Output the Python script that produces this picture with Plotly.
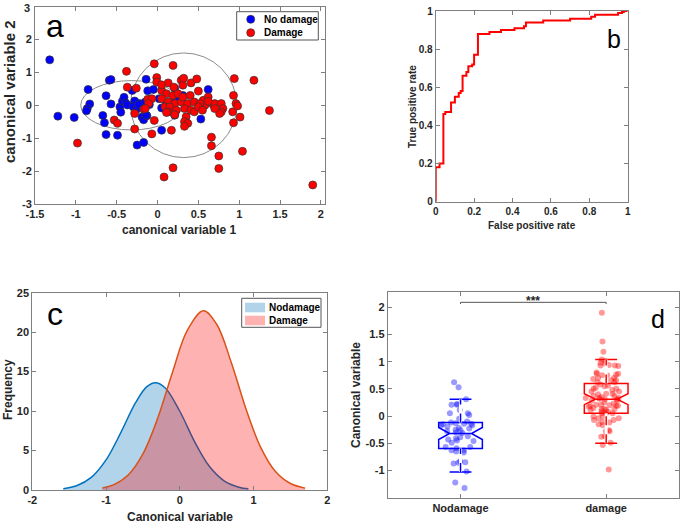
import plotly.graph_objects as go

# ---------------- data ----------------
# (a) canonical variables scatter
nodmg_cv1 = [-1.32, -1.22, -1.02, -0.85, -0.83, -0.86, -0.87, -0.67, -0.65, -0.63,
             -0.59, -0.57, -0.57, -0.63, -0.49, -0.46, -0.45, -0.43, -0.41, -0.39,
             -0.37, -0.31, -0.28, -0.30, -0.26, -0.22, -0.19, -0.17, -0.13, -0.12,
             -0.14, -0.25, -0.17, -0.05, 0.05, 0.05, 0.21, 0.31, 0.62, 0.53,
             -0.15, -0.14, 0.21, -0.23, -0.10, 0.11, 0.02, 0.22]
nodmg_cv2 = [1.38, -0.33, -0.37, 0.48, 0.04, -0.10, -0.17, -0.31, -0.53, 0.29,
             0.76, 0.78, 0.04, -0.89, -0.91, -0.05, -0.21, 0.12, 0.24, 0.07,
             0.01, 0.45, 0.13, -0.04, -0.13, 0.05, -0.36, -0.44, -0.32, 0.44,
             0.79, -1.21, -1.13, 0.48, -0.08, -0.76, 0.52, 0.30, 0.48, -0.42,
             0.10, -0.30, -0.30, 0.02, 0.02, 0.05, 0.20, 0.15]
dmg_cv1 = [-0.98, -0.38, -0.37, -0.53, -0.49, -0.26, -0.28, -0.28, -0.17, -0.04,
           -0.07, -0.04, -0.01, -0.01, 0.19, 0.17, 0.19, 0.08, -0.12, -0.07,
           -0.11, 0.05, 0.11, 0.19, 0.25, 0.05, 0.13, 0.21, 0.29, 0.31,
           0.37, 0.45, 0.56, 0.62, 0.13, 0.29, 0.31, 0.41, 0.50, 0.32,
           0.48, 0.09, 0.15, 0.13, 0.11, 0.23, 0.33, 0.41, 0.45, 0.58,
           0.68, 0.70, 0.78, 0.80, 0.78, 0.76, 0.96, 0.94, 0.93, 0.92,
           1.01, 0.98, 0.93, 1.18, 1.37, 1.90, 0.66, 0.66, 0.75, 0.75,
           1.04, 0.35, 0.33, 0.37, 0.33, 0.21, -0.15, 0.62, 0.52, 0.40,
           0.50, 0.55, 0.20, 0.05, 0.70]
dmg_cv2 = [-1.15, 1.03, 0.55, -0.45, -0.55, 0.52, -0.25, -0.72, -0.12, -0.46,
           -0.87, 1.26, 0.84, 0.71, 1.21, -0.76, -1.90, -2.18, 0.18, 0.20,
           0.05, 0.45, 0.35, 0.30, 0.35, 0.20, 0.10, 0.05, 0.10, 0.25,
           0.05, 0.10, 0.15, 0.25, 0.68, 0.76, 0.61, 0.68, 0.43, 0.82,
           0.80, -0.05, -0.05, -0.20, -0.22, -0.15, -0.10, -0.15, -0.20, 0.00,
           0.02, 0.05, 0.05, -0.10, -0.20, -0.25, 0.05, 0.81, 0.30, -0.20,
           -0.36, -0.02, -0.53, 0.76, -0.16, -2.42, -0.97, -1.23, -1.54, -1.92,
           -1.40, -0.35, -0.50, -0.55, -0.64, -0.29, -0.10, 0.12, 0.05, 0.30,
           -0.05, -0.15, 0.55, 0.62, -0.10]
# confidence ellipses: centre x, centre y, half-width, half-height
ellipse_nodmg = (-0.32, 0.00, 0.62, 0.75)
ellipse_dmg = (0.32, 0.00, 0.65, 1.59)
scatter_names = ["No damage", "Damage"]
a_xticks = [-1.5, -1, -0.5, 0, 0.5, 1, 1.5, 2]
a_yticks = [-3, -2, -1, 0, 1, 2, 3]

# (b) ROC curve
roc_fpr = [0.00, 0.00, 0.02, 0.04, 0.04, 0.05, 0.07, 0.08, 0.08, 0.10, 0.10, 0.12,
           0.13, 0.14, 0.14, 0.16, 0.17, 0.19, 0.20, 0.22, 0.22, 0.28, 0.34, 0.41,
           0.46, 0.47, 0.56, 0.70, 0.81, 0.83, 0.95, 0.97, 0.98, 1.00]
roc_tpr = [0.00, 0.18, 0.20, 0.21, 0.46, 0.47, 0.47, 0.49, 0.52, 0.52, 0.55, 0.57,
           0.58, 0.58, 0.66, 0.68, 0.71, 0.72, 0.77, 0.77, 0.88, 0.89, 0.90, 0.91,
           0.92, 0.94, 0.95, 0.96, 0.97, 0.98, 0.99, 0.995, 1.00, 1.00]
b_ticks = [0, 0.2, 0.4, 0.6, 0.8, 1]

# (c) fitted distributions
nodmg_curve_x = [-1.58, -1.40, -1.20, -1.00, -0.80, -0.60, -0.45, -0.33, -0.20,
                 0.00, 0.20, 0.40, 0.60, 0.80, 0.93]
nodmg_curve_y = [0.16, 0.53, 1.59, 3.81, 7.27, 11.06, 13.06, 13.60, 12.96,
                 9.98, 6.13, 3.00, 1.17, 0.36, 0.15]
dmg_curve_x = [-1.05, -0.90, -0.70, -0.50, -0.30, -0.10, 0.10, 0.32, 0.50,
               0.70, 0.90, 1.10, 1.30, 1.50, 1.70]
dmg_curve_y = [0.26, 0.65, 1.90, 4.57, 9.08, 14.90, 20.20, 22.70, 21.00,
               16.10, 10.20, 5.33, 2.30, 0.82, 0.24]
dist_names = ["Nodamage", "Damage"]
c_xticks = [-2, -1, 0, 1, 2]
c_yticks = [0, 5, 10, 15, 20, 25]

# (d) box plot statistics
groups = ["Nodamage", "damage"]
box_q1 = [-0.595, 0.05]
box_median = [-0.32, 0.31]
box_q3 = [-0.116, 0.60]
box_lower = [-1.03, -0.50]
box_upper = [0.31, 1.04]
box_notch = [0.11, 0.10]
sig_label = "***"
sig_level = 2.09
d_yticks = [-1, -0.5, 0, 0.5, 1, 1.5, 2]

# ---------------- styling helpers ----------------
FONT = "Liberation Sans, Arial, sans-serif"
AX = "#7f7f7f"
TXT = "#262626"
W, H = 685, 525


def px(x):
    return x / W


def py(y):
    return 1 - y / H


def fmt(v):
    return f"{v:g}"


def axis(domain, rng, tickvals, ticktext=None, size=11, anchor=None):
    return dict(domain=domain, range=rng, showline=True, linecolor=AX, linewidth=1,
                mirror="allticks", ticks="inside", ticklen=4, tickcolor=AX,
                showgrid=False, zeroline=False, automargin=False,
                ticklabeloverflow="allow", tickmode="array", tickvals=tickvals,
                ticktext=ticktext if ticktext is not None else [fmt(v) for v in tickvals],
                anchor=anchor,
                tickfont=dict(family=FONT, size=size, color=TXT, weight="bold"))


fig = go.Figure()

# ---------------- (a) ----------------
scatter_colors = ["#0000ff", "#ff0000"]
for name, xs, ys, col in zip(scatter_names, [nodmg_cv1, dmg_cv1], [nodmg_cv2, dmg_cv2], scatter_colors):
    fig.add_trace(go.Scatter(x=xs, y=ys, mode="markers", name=name,
                             marker=dict(color=col, size=8, line=dict(color="#333", width=0.7)),
                             showlegend=False, xaxis="x", yaxis="y"))
shapes = []
for cx, cy, rx, ry in (ellipse_nodmg, ellipse_dmg):
    shapes.append(dict(type="circle", xref="x", yref="y", x0=cx - rx, x1=cx + rx,
                       y0=cy - ry, y1=cy + ry, line=dict(color="#8c8c8c", width=1),
                       layer="below"))

# ---------------- (b) ----------------
fig.add_trace(go.Scatter(x=roc_fpr, y=roc_tpr, mode="lines", line=dict(color="#ff0000", width=2, shape="hv"),
                         showlegend=False, xaxis="x2", yaxis="y2"))

# ---------------- (c) ----------------
dist_line = ["#0072bd", "#d95319"]
dist_fill = ["rgba(0,114,189,0.3)", "rgba(255,0,0,0.3)"]
for name, xs, ys, lc, fc in zip(dist_names, [nodmg_curve_x, dmg_curve_x], [nodmg_curve_y, dmg_curve_y],
                                dist_line, dist_fill):
    fig.add_trace(go.Scatter(x=xs, y=ys, mode="lines", name=name,
                             line=dict(color=lc, width=1.5, shape="spline"),
                             fill="tozeroy", fillcolor=fc, showlegend=False,
                             xaxis="x3", yaxis="y3"))

# ---------------- (d) ----------------
box_colors = ["#0000ff", "#ff0000"]
pt_colors = ["rgba(0,0,255,0.4)", "rgba(255,0,0,0.4)"]
values = [nodmg_cv1, dmg_cv1]
for i in range(2):
    pos = i + 1
    fig.add_trace(go.Box(x=[pos], q1=[box_q1[i]], median=[box_median[i]], q3=[box_q3[i]],
                         lowerfence=[box_lower[i]], upperfence=[box_upper[i]],
                         notchspan=[box_notch[i]], notched=True, notchwidth=0.25,
                         width=0.3, whiskerwidth=0.5, boxpoints=False,
                         line=dict(color=box_colors[i], width=1.5),
                         fillcolor="rgba(0,0,0,0)", showlegend=False,
                         xaxis="x4", yaxis="y4"))
    for seg in ((box_q3[i], box_upper[i]), (box_lower[i], box_q1[i])):
        fig.add_trace(go.Scatter(x=[pos, pos], y=list(seg), mode="lines",
                                 line=dict(color="white", width=3), showlegend=False,
                                 hoverinfo="skip", xaxis="x4", yaxis="y4"))
        fig.add_trace(go.Scatter(x=[pos, pos], y=list(seg), mode="lines",
                                 line=dict(color=box_colors[i], width=1.5, dash="dash"),
                                 showlegend=False, hoverinfo="skip", xaxis="x4", yaxis="y4"))
    fig.add_trace(go.Box(x=[pos] * len(values[i]), y=values[i], boxpoints="all", jitter=0.95,
                         pointpos=0, width=0.3, marker=dict(color=pt_colors[i], size=6),
                         line=dict(color="rgba(0,0,0,0)", width=0),
                         fillcolor="rgba(0,0,0,0)", showlegend=False, name=groups[i],
                         xaxis="x4", yaxis="y4"))
# significance bracket
fig.add_trace(go.Scatter(x=[1, 1, 2, 2], y=[sig_level - 0.03, sig_level, sig_level, sig_level - 0.03],
                         mode="lines", line=dict(color="#555", width=1), showlegend=False,
                         hoverinfo="skip", xaxis="x4", yaxis="y4"))

# ---------------- text & legends ----------------
ann = []


def text(t, sx, sy, size, angle=0, weight="bold", xanchor="center", color=TXT, yanchor="middle"):
    ann.append(dict(text=t, xref="paper", yref="paper", x=px(sx), y=py(sy),
                    xanchor=xanchor, yanchor=yanchor, showarrow=False, textangle=angle,
                    font=dict(family=FONT, size=size, color=color, weight=weight)))


text("canonical variable 1", 179, 230, 12)
text("canonical variable 2", 10, 92, 15, -90)
text("False positive rate", 532, 225.5, 10)
text("True positive rate", 412.5, 106.5, 10, -90)
text("Canonical variable", 180, 516.5, 12)
text("Frequency", 8, 390, 12, -90)
text("Canonical variable", 356, 395, 12, -90)
text("a", 54.5, 26, 32, weight="normal", color="#000")
text("b", 613.5, 39, 25, weight="normal", color="#000")
text("c", 55, 314, 32, weight="normal", color="#000")
text("d", 657.5, 319, 25, weight="normal", color="#000")
ann.append(dict(text=sig_label, xref="x4", yref="y4", x=1.5, y=sig_level + 0.02, xanchor="center",
                yanchor="middle", showarrow=False,
                font=dict(family=FONT, size=12, color=TXT, weight="bold")))
# top tick label of panel (a), which sits at the very top edge of the page
text(fmt(a_yticks[-1]), 32, 0, 11, xanchor="right", yanchor="top")
a_yticktext = [fmt(v) for v in a_yticks[:-1]] + [""]

# legend (a)
shapes.append(dict(type="rect", xref="paper", yref="paper", x0=px(236.7), x1=px(318.3),
                   y0=py(40), y1=py(11.7), line=dict(color="#555", width=1), fillcolor="white"))
for k, (name, col) in enumerate(zip(scatter_names, scatter_colors)):
    cy = 19.3 + 13.4 * k
    shapes.append(dict(type="circle", xref="paper", yref="paper", x0=px(246.7), x1=px(254.7),
                       y0=py(cy + 4), y1=py(cy - 4), fillcolor=col, line=dict(color="#333", width=0.7)))
    text(name, 261.5, cy, 10, xanchor="left", color="#000")

# legend (c)
shapes.append(dict(type="rect", xref="paper", yref="paper", x0=px(241.7), x1=px(321),
                   y0=py(327.3), y1=py(298.3), line=dict(color="#555", width=1), fillcolor="white"))
for k, (name, fc) in enumerate(zip(dist_names, dist_fill)):
    cy = 307.5 + 13 * k
    shapes.append(dict(type="rect", xref="paper", yref="paper", x0=px(245), x1=px(265),
                       y0=py(cy + 4.8), y1=py(cy - 4.8), fillcolor=fc, line=dict(width=0)))
    text(name, 266.5, cy, 10, xanchor="left", color="#000")

fig.update_layout(
    width=W, height=H, margin=dict(l=0, r=0, t=0, b=0),
    paper_bgcolor="white", plot_bgcolor="white", boxmode="overlay", showlegend=False,
    xaxis=axis([px(35), px(325)], [-1.5, 2.05], a_xticks, anchor="y"),
    yaxis=axis([py(204), py(6.5)], [-3, 3.001], a_yticks, ticktext=a_yticktext, anchor="x"),
    xaxis2=axis([px(435.7), px(627.7)], [0, 1], b_ticks, size=10, anchor="y2"),
    yaxis2=axis([py(201.7), py(11)], [0, 1], b_ticks, size=10, anchor="x2"),
    xaxis3=axis([px(32.3), px(327.3)], [-2, 2], c_xticks, anchor="y3"),
    yaxis3=axis([py(490), py(292.7)], [0, 25], c_yticks, anchor="x3"),
    xaxis4=axis([px(387.7), px(679)], [0.5, 2.5], [1, 2], ticktext=groups, anchor="y4"),
    yaxis4=axis([py(497.7), py(292)], [-1.5, 2.28], d_yticks, anchor="x4"),
    shapes=shapes, annotations=ann,
)

fig.write_html("out.html", config={"displayModeBar": False},
               post_script="document.body.style.margin='0';document.body.style.overflow='hidden';")
